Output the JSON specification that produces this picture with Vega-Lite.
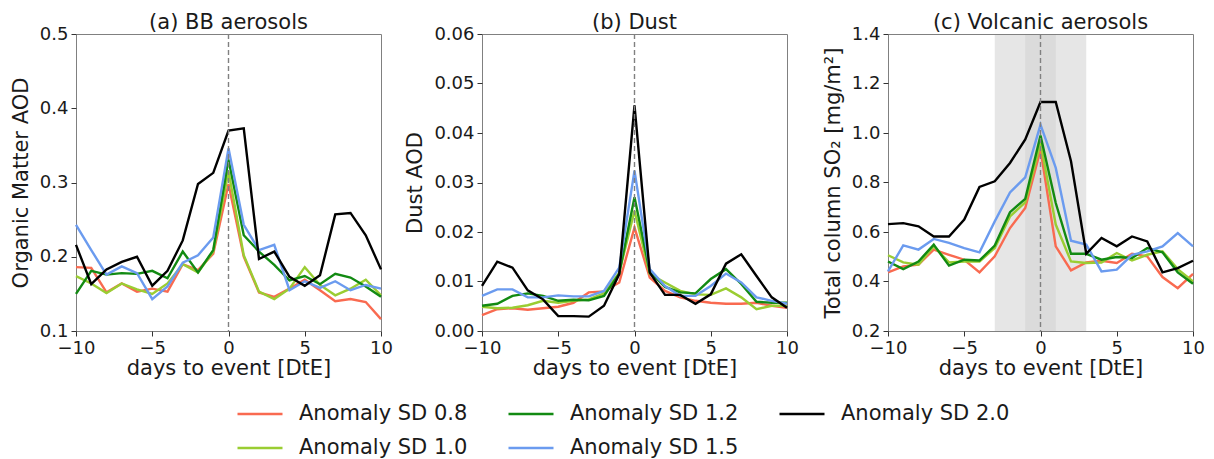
{
  "$schema": "https://vega.github.io/schema/vega-lite/v6.json",
  "padding": {"left": 9, "top": 11, "right": 5, "bottom": 5},
  "datasets": {
    "main": [
      {"p":"a","s":"0.8","d":-10,"v":0.186},{"p":"a","s":"0.8","d":-9,"v":0.185},{"p":"a","s":"0.8","d":-8,"v":0.152},{"p":"a","s":"0.8","d":-7,"v":0.164},{"p":"a","s":"0.8","d":-6,"v":0.153},{"p":"a","s":"0.8","d":-5,"v":0.157},{"p":"a","s":"0.8","d":-4,"v":0.153},{"p":"a","s":"0.8","d":-3,"v":0.190},{"p":"a","s":"0.8","d":-2,"v":0.182},{"p":"a","s":"0.8","d":-1,"v":0.204},{"p":"a","s":"0.8","d":0,"v":0.298},{"p":"a","s":"0.8","d":1,"v":0.200},{"p":"a","s":"0.8","d":2,"v":0.152},{"p":"a","s":"0.8","d":3,"v":0.146},{"p":"a","s":"0.8","d":4,"v":0.157},{"p":"a","s":"0.8","d":5,"v":0.169},{"p":"a","s":"0.8","d":6,"v":0.155},{"p":"a","s":"0.8","d":7,"v":0.140},{"p":"a","s":"0.8","d":8,"v":0.143},{"p":"a","s":"0.8","d":9,"v":0.139},{"p":"a","s":"0.8","d":10,"v":0.116},
      {"p":"a","s":"1.0","d":-10,"v":0.174},{"p":"a","s":"1.0","d":-9,"v":0.164},{"p":"a","s":"1.0","d":-8,"v":0.151},{"p":"a","s":"1.0","d":-7,"v":0.164},{"p":"a","s":"1.0","d":-6,"v":0.156},{"p":"a","s":"1.0","d":-5,"v":0.150},{"p":"a","s":"1.0","d":-4,"v":0.164},{"p":"a","s":"1.0","d":-3,"v":0.190},{"p":"a","s":"1.0","d":-2,"v":0.179},{"p":"a","s":"1.0","d":-1,"v":0.207},{"p":"a","s":"1.0","d":0,"v":0.315},{"p":"a","s":"1.0","d":1,"v":0.202},{"p":"a","s":"1.0","d":2,"v":0.153},{"p":"a","s":"1.0","d":3,"v":0.143},{"p":"a","s":"1.0","d":4,"v":0.157},{"p":"a","s":"1.0","d":5,"v":0.186},{"p":"a","s":"1.0","d":6,"v":0.162},{"p":"a","s":"1.0","d":7,"v":0.148},{"p":"a","s":"1.0","d":8,"v":0.157},{"p":"a","s":"1.0","d":9,"v":0.169},{"p":"a","s":"1.0","d":10,"v":0.148},
      {"p":"a","s":"1.2","d":-10,"v":0.150},{"p":"a","s":"1.2","d":-9,"v":0.181},{"p":"a","s":"1.2","d":-8,"v":0.176},{"p":"a","s":"1.2","d":-7,"v":0.178},{"p":"a","s":"1.2","d":-6,"v":0.177},{"p":"a","s":"1.2","d":-5,"v":0.181},{"p":"a","s":"1.2","d":-4,"v":0.171},{"p":"a","s":"1.2","d":-3,"v":0.207},{"p":"a","s":"1.2","d":-2,"v":0.179},{"p":"a","s":"1.2","d":-1,"v":0.209},{"p":"a","s":"1.2","d":0,"v":0.331},{"p":"a","s":"1.2","d":1,"v":0.229},{"p":"a","s":"1.2","d":2,"v":0.207},{"p":"a","s":"1.2","d":3,"v":0.189},{"p":"a","s":"1.2","d":4,"v":0.168},{"p":"a","s":"1.2","d":5,"v":0.174},{"p":"a","s":"1.2","d":6,"v":0.163},{"p":"a","s":"1.2","d":7,"v":0.177},{"p":"a","s":"1.2","d":8,"v":0.172},{"p":"a","s":"1.2","d":9,"v":0.160},{"p":"a","s":"1.2","d":10,"v":0.146},
      {"p":"a","s":"1.5","d":-10,"v":0.243},{"p":"a","s":"1.5","d":-9,"v":0.209},{"p":"a","s":"1.5","d":-8,"v":0.176},{"p":"a","s":"1.5","d":-7,"v":0.187},{"p":"a","s":"1.5","d":-6,"v":0.178},{"p":"a","s":"1.5","d":-5,"v":0.143},{"p":"a","s":"1.5","d":-4,"v":0.160},{"p":"a","s":"1.5","d":-3,"v":0.192},{"p":"a","s":"1.5","d":-2,"v":0.202},{"p":"a","s":"1.5","d":-1,"v":0.226},{"p":"a","s":"1.5","d":0,"v":0.346},{"p":"a","s":"1.5","d":1,"v":0.243},{"p":"a","s":"1.5","d":2,"v":0.209},{"p":"a","s":"1.5","d":3,"v":0.216},{"p":"a","s":"1.5","d":4,"v":0.155},{"p":"a","s":"1.5","d":5,"v":0.167},{"p":"a","s":"1.5","d":6,"v":0.158},{"p":"a","s":"1.5","d":7,"v":0.167},{"p":"a","s":"1.5","d":8,"v":0.155},{"p":"a","s":"1.5","d":9,"v":0.162},{"p":"a","s":"1.5","d":10,"v":0.157},
      {"p":"a","s":"2.0","d":-10,"v":0.216},{"p":"a","s":"2.0","d":-9,"v":0.163},{"p":"a","s":"2.0","d":-8,"v":0.183},{"p":"a","s":"2.0","d":-7,"v":0.193},{"p":"a","s":"2.0","d":-6,"v":0.200},{"p":"a","s":"2.0","d":-5,"v":0.161},{"p":"a","s":"2.0","d":-4,"v":0.181},{"p":"a","s":"2.0","d":-3,"v":0.222},{"p":"a","s":"2.0","d":-2,"v":0.298},{"p":"a","s":"2.0","d":-1,"v":0.313},{"p":"a","s":"2.0","d":0,"v":0.370},{"p":"a","s":"2.0","d":1,"v":0.373},{"p":"a","s":"2.0","d":2,"v":0.197},{"p":"a","s":"2.0","d":3,"v":0.207},{"p":"a","s":"2.0","d":4,"v":0.173},{"p":"a","s":"2.0","d":5,"v":0.161},{"p":"a","s":"2.0","d":6,"v":0.175},{"p":"a","s":"2.0","d":7,"v":0.257},{"p":"a","s":"2.0","d":8,"v":0.259},{"p":"a","s":"2.0","d":9,"v":0.229},{"p":"a","s":"2.0","d":10,"v":0.183},

      {"p":"b","s":"0.8","d":-10,"v":0.0032},{"p":"b","s":"0.8","d":-9,"v":0.0044},{"p":"b","s":"0.8","d":-8,"v":0.0046},{"p":"b","s":"0.8","d":-7,"v":0.0043},{"p":"b","s":"0.8","d":-6,"v":0.0046},{"p":"b","s":"0.8","d":-5,"v":0.0049},{"p":"b","s":"0.8","d":-4,"v":0.0057},{"p":"b","s":"0.8","d":-3,"v":0.0078},{"p":"b","s":"0.8","d":-2,"v":0.0080},{"p":"b","s":"0.8","d":-1,"v":0.0098},{"p":"b","s":"0.8","d":0,"v":0.0209},{"p":"b","s":"0.8","d":1,"v":0.0108},{"p":"b","s":"0.8","d":2,"v":0.0081},{"p":"b","s":"0.8","d":3,"v":0.0068},{"p":"b","s":"0.8","d":4,"v":0.0061},{"p":"b","s":"0.8","d":5,"v":0.0057},{"p":"b","s":"0.8","d":6,"v":0.0055},{"p":"b","s":"0.8","d":7,"v":0.0055},{"p":"b","s":"0.8","d":8,"v":0.0057},{"p":"b","s":"0.8","d":9,"v":0.0051},{"p":"b","s":"0.8","d":10,"v":0.0047},
      {"p":"b","s":"1.0","d":-10,"v":0.0049},{"p":"b","s":"1.0","d":-9,"v":0.0046},{"p":"b","s":"1.0","d":-8,"v":0.0047},{"p":"b","s":"1.0","d":-7,"v":0.0052},{"p":"b","s":"1.0","d":-6,"v":0.0061},{"p":"b","s":"1.0","d":-5,"v":0.0057},{"p":"b","s":"1.0","d":-4,"v":0.0061},{"p":"b","s":"1.0","d":-3,"v":0.0064},{"p":"b","s":"1.0","d":-2,"v":0.0076},{"p":"b","s":"1.0","d":-1,"v":0.0118},{"p":"b","s":"1.0","d":0,"v":0.0243},{"p":"b","s":"1.0","d":1,"v":0.0115},{"p":"b","s":"1.0","d":2,"v":0.0098},{"p":"b","s":"1.0","d":3,"v":0.0081},{"p":"b","s":"1.0","d":4,"v":0.0074},{"p":"b","s":"1.0","d":5,"v":0.0073},{"p":"b","s":"1.0","d":6,"v":0.0086},{"p":"b","s":"1.0","d":7,"v":0.0068},{"p":"b","s":"1.0","d":8,"v":0.0044},{"p":"b","s":"1.0","d":9,"v":0.0051},{"p":"b","s":"1.0","d":10,"v":0.0051},
      {"p":"b","s":"1.2","d":-10,"v":0.0051},{"p":"b","s":"1.2","d":-9,"v":0.0055},{"p":"b","s":"1.2","d":-8,"v":0.0071},{"p":"b","s":"1.2","d":-7,"v":0.0076},{"p":"b","s":"1.2","d":-6,"v":0.0071},{"p":"b","s":"1.2","d":-5,"v":0.0061},{"p":"b","s":"1.2","d":-4,"v":0.0063},{"p":"b","s":"1.2","d":-3,"v":0.0062},{"p":"b","s":"1.2","d":-2,"v":0.0071},{"p":"b","s":"1.2","d":-1,"v":0.0116},{"p":"b","s":"1.2","d":0,"v":0.0270},{"p":"b","s":"1.2","d":1,"v":0.0120},{"p":"b","s":"1.2","d":2,"v":0.0089},{"p":"b","s":"1.2","d":3,"v":0.0078},{"p":"b","s":"1.2","d":4,"v":0.0076},{"p":"b","s":"1.2","d":5,"v":0.0105},{"p":"b","s":"1.2","d":6,"v":0.0125},{"p":"b","s":"1.2","d":7,"v":0.0095},{"p":"b","s":"1.2","d":8,"v":0.0059},{"p":"b","s":"1.2","d":9,"v":0.0057},{"p":"b","s":"1.2","d":10,"v":0.0057},
      {"p":"b","s":"1.5","d":-10,"v":0.0071},{"p":"b","s":"1.5","d":-9,"v":0.0084},{"p":"b","s":"1.5","d":-8,"v":0.0084},{"p":"b","s":"1.5","d":-7,"v":0.0068},{"p":"b","s":"1.5","d":-6,"v":0.0068},{"p":"b","s":"1.5","d":-5,"v":0.0072},{"p":"b","s":"1.5","d":-4,"v":0.0070},{"p":"b","s":"1.5","d":-3,"v":0.0070},{"p":"b","s":"1.5","d":-2,"v":0.0081},{"p":"b","s":"1.5","d":-1,"v":0.0128},{"p":"b","s":"1.5","d":0,"v":0.0324},{"p":"b","s":"1.5","d":1,"v":0.0125},{"p":"b","s":"1.5","d":2,"v":0.0091},{"p":"b","s":"1.5","d":3,"v":0.0071},{"p":"b","s":"1.5","d":4,"v":0.0071},{"p":"b","s":"1.5","d":5,"v":0.0091},{"p":"b","s":"1.5","d":6,"v":0.0116},{"p":"b","s":"1.5","d":7,"v":0.0098},{"p":"b","s":"1.5","d":8,"v":0.0068},{"p":"b","s":"1.5","d":9,"v":0.0061},{"p":"b","s":"1.5","d":10,"v":0.0055},
      {"p":"b","s":"2.0","d":-10,"v":0.0091},{"p":"b","s":"2.0","d":-9,"v":0.0140},{"p":"b","s":"2.0","d":-8,"v":0.0128},{"p":"b","s":"2.0","d":-7,"v":0.0082},{"p":"b","s":"2.0","d":-6,"v":0.0064},{"p":"b","s":"2.0","d":-5,"v":0.0030},{"p":"b","s":"2.0","d":-4,"v":0.0030},{"p":"b","s":"2.0","d":-3,"v":0.0029},{"p":"b","s":"2.0","d":-2,"v":0.0051},{"p":"b","s":"2.0","d":-1,"v":0.0115},{"p":"b","s":"2.0","d":0,"v":0.0456},{"p":"b","s":"2.0","d":1,"v":0.0118},{"p":"b","s":"2.0","d":2,"v":0.0073},{"p":"b","s":"2.0","d":3,"v":0.0073},{"p":"b","s":"2.0","d":4,"v":0.0055},{"p":"b","s":"2.0","d":5,"v":0.0074},{"p":"b","s":"2.0","d":6,"v":0.0136},{"p":"b","s":"2.0","d":7,"v":0.0155},{"p":"b","s":"2.0","d":8,"v":0.0111},{"p":"b","s":"2.0","d":9,"v":0.0068},{"p":"b","s":"2.0","d":10,"v":0.0047},

      {"p":"c","s":"0.8","d":-10,"v":0.437},{"p":"c","s":"0.8","d":-9,"v":0.461},{"p":"c","s":"0.8","d":-8,"v":0.468},{"p":"c","s":"0.8","d":-7,"v":0.529},{"p":"c","s":"0.8","d":-6,"v":0.508},{"p":"c","s":"0.8","d":-5,"v":0.488},{"p":"c","s":"0.8","d":-4,"v":0.437},{"p":"c","s":"0.8","d":-3,"v":0.502},{"p":"c","s":"0.8","d":-2,"v":0.616},{"p":"c","s":"0.8","d":-1,"v":0.697},{"p":"c","s":"0.8","d":0,"v":0.933},{"p":"c","s":"0.8","d":1,"v":0.542},{"p":"c","s":"0.8","d":2,"v":0.445},{"p":"c","s":"0.8","d":3,"v":0.477},{"p":"c","s":"0.8","d":4,"v":0.484},{"p":"c","s":"0.8","d":5,"v":0.475},{"p":"c","s":"0.8","d":6,"v":0.512},{"p":"c","s":"0.8","d":7,"v":0.502},{"p":"c","s":"0.8","d":8,"v":0.418},{"p":"c","s":"0.8","d":9,"v":0.373},{"p":"c","s":"0.8","d":10,"v":0.431},
      {"p":"c","s":"1.0","d":-10,"v":0.506},{"p":"c","s":"1.0","d":-9,"v":0.477},{"p":"c","s":"1.0","d":-8,"v":0.468},{"p":"c","s":"1.0","d":-7,"v":0.542},{"p":"c","s":"1.0","d":-6,"v":0.477},{"p":"c","s":"1.0","d":-5,"v":0.481},{"p":"c","s":"1.0","d":-4,"v":0.481},{"p":"c","s":"1.0","d":-3,"v":0.535},{"p":"c","s":"1.0","d":-2,"v":0.663},{"p":"c","s":"1.0","d":-1,"v":0.720},{"p":"c","s":"1.0","d":0,"v":0.960},{"p":"c","s":"1.0","d":1,"v":0.630},{"p":"c","s":"1.0","d":2,"v":0.481},{"p":"c","s":"1.0","d":3,"v":0.475},{"p":"c","s":"1.0","d":4,"v":0.477},{"p":"c","s":"1.0","d":5,"v":0.515},{"p":"c","s":"1.0","d":6,"v":0.485},{"p":"c","s":"1.0","d":7,"v":0.508},{"p":"c","s":"1.0","d":8,"v":0.522},{"p":"c","s":"1.0","d":9,"v":0.450},{"p":"c","s":"1.0","d":10,"v":0.400},
      {"p":"c","s":"1.2","d":-10,"v":0.481},{"p":"c","s":"1.2","d":-9,"v":0.450},{"p":"c","s":"1.2","d":-8,"v":0.481},{"p":"c","s":"1.2","d":-7,"v":0.549},{"p":"c","s":"1.2","d":-6,"v":0.464},{"p":"c","s":"1.2","d":-5,"v":0.488},{"p":"c","s":"1.2","d":-4,"v":0.485},{"p":"c","s":"1.2","d":-3,"v":0.545},{"p":"c","s":"1.2","d":-2,"v":0.680},{"p":"c","s":"1.2","d":-1,"v":0.734},{"p":"c","s":"1.2","d":0,"v":0.990},{"p":"c","s":"1.2","d":1,"v":0.717},{"p":"c","s":"1.2","d":2,"v":0.512},{"p":"c","s":"1.2","d":3,"v":0.512},{"p":"c","s":"1.2","d":4,"v":0.488},{"p":"c","s":"1.2","d":5,"v":0.499},{"p":"c","s":"1.2","d":6,"v":0.495},{"p":"c","s":"1.2","d":7,"v":0.535},{"p":"c","s":"1.2","d":8,"v":0.518},{"p":"c","s":"1.2","d":9,"v":0.437},{"p":"c","s":"1.2","d":10,"v":0.391},
      {"p":"c","s":"1.5","d":-10,"v":0.441},{"p":"c","s":"1.5","d":-9,"v":0.546},{"p":"c","s":"1.5","d":-8,"v":0.529},{"p":"c","s":"1.5","d":-7,"v":0.572},{"p":"c","s":"1.5","d":-6,"v":0.556},{"p":"c","s":"1.5","d":-5,"v":0.535},{"p":"c","s":"1.5","d":-4,"v":0.518},{"p":"c","s":"1.5","d":-3,"v":0.643},{"p":"c","s":"1.5","d":-2,"v":0.760},{"p":"c","s":"1.5","d":-1,"v":0.821},{"p":"c","s":"1.5","d":0,"v":1.034},{"p":"c","s":"1.5","d":1,"v":0.859},{"p":"c","s":"1.5","d":2,"v":0.565},{"p":"c","s":"1.5","d":3,"v":0.549},{"p":"c","s":"1.5","d":4,"v":0.441},{"p":"c","s":"1.5","d":5,"v":0.448},{"p":"c","s":"1.5","d":6,"v":0.508},{"p":"c","s":"1.5","d":7,"v":0.522},{"p":"c","s":"1.5","d":8,"v":0.542},{"p":"c","s":"1.5","d":9,"v":0.596},{"p":"c","s":"1.5","d":10,"v":0.542},
      {"p":"c","s":"2.0","d":-10,"v":0.632},{"p":"c","s":"2.0","d":-9,"v":0.636},{"p":"c","s":"2.0","d":-8,"v":0.623},{"p":"c","s":"2.0","d":-7,"v":0.582},{"p":"c","s":"2.0","d":-6,"v":0.582},{"p":"c","s":"2.0","d":-5,"v":0.650},{"p":"c","s":"2.0","d":-4,"v":0.782},{"p":"c","s":"2.0","d":-3,"v":0.805},{"p":"c","s":"2.0","d":-2,"v":0.879},{"p":"c","s":"2.0","d":-1,"v":0.974},{"p":"c","s":"2.0","d":0,"v":1.125},{"p":"c","s":"2.0","d":1,"v":1.125},{"p":"c","s":"2.0","d":2,"v":0.886},{"p":"c","s":"2.0","d":3,"v":0.512},{"p":"c","s":"2.0","d":4,"v":0.576},{"p":"c","s":"2.0","d":5,"v":0.542},{"p":"c","s":"2.0","d":6,"v":0.582},{"p":"c","s":"2.0","d":7,"v":0.562},{"p":"c","s":"2.0","d":8,"v":0.437},{"p":"c","s":"2.0","d":9,"v":0.454},{"p":"c","s":"2.0","d":10,"v":0.484}
    ]
  },
  "spacing": 101,
  "bounds": "flush",
  "hconcat": [
    {
      "width": 305, "height": 297,
      "title": "(a) BB aerosols",
      "layer": [
        {
          "data": {"name": "main"},
          "transform": [{"filter": "datum.p === 'a'"}],
          "mark": {"type": "line", "strokeWidth": 2.4},
          "encoding": {
            "x": {"field": "d", "type": "quantitative", "scale": {"domain": [-10, 10], "nice": false}, "axis": {"values": [-10, -5, 0, 5, 10], "title": "days to event [DtE]"}},
            "y": {"field": "v", "type": "quantitative", "scale": {"domain": [0.1, 0.5], "nice": false, "zero": false}, "axis": {"values": [0.1, 0.2, 0.3, 0.4, 0.5], "format": ".1f", "title": "Organic Matter AOD"}},
            "color": {"field": "s", "type": "nominal", "scale": {"domain": ["0.8", "1.2", "2.0", "1.0", "1.5"], "range": ["#f96a50", "#128a12", "#000000", "#9acd32", "#6b9bef"]}, "legend": {"labelExpr": "'Anomaly SD ' + datum.label"}}
          }
        },
        {
          "data": {"values": [{}]},
          "mark": {"type": "rule", "color": "#808080", "strokeDash": [5, 3], "strokeWidth": 1.4},
          "encoding": {"x": {"datum": 0, "type": "quantitative"}}
        }
      ]
    },
    {
      "width": 305, "height": 297,
      "title": "(b) Dust",
      "layer": [
        {
          "data": {"name": "main"},
          "transform": [{"filter": "datum.p === 'b'"}],
          "mark": {"type": "line", "strokeWidth": 2.4},
          "encoding": {
            "x": {"field": "d", "type": "quantitative", "scale": {"domain": [-10, 10], "nice": false}, "axis": {"values": [-10, -5, 0, 5, 10], "title": "days to event [DtE]"}},
            "y": {"field": "v", "type": "quantitative", "scale": {"domain": [0, 0.06], "nice": false}, "axis": {"values": [0, 0.01, 0.02, 0.03, 0.04, 0.05, 0.06], "format": ".2f", "title": "Dust AOD"}},
            "color": {"field": "s", "type": "nominal", "scale": {"domain": ["0.8", "1.2", "2.0", "1.0", "1.5"], "range": ["#f96a50", "#128a12", "#000000", "#9acd32", "#6b9bef"]}, "legend": {"labelExpr": "'Anomaly SD ' + datum.label"}}
          }
        },
        {
          "data": {"values": [{}]},
          "mark": {"type": "rule", "color": "#808080", "strokeDash": [5, 3], "strokeWidth": 1.4},
          "encoding": {"x": {"datum": 0, "type": "quantitative"}}
        }
      ]
    },
    {
      "width": 305, "height": 297,
      "title": "(c) Volcanic aerosols",
      "layer": [
        {
          "data": {"values": [{"a": -3, "b": 3}]},
          "mark": {"type": "rect", "color": "#808080", "opacity": 0.2},
          "encoding": {"x": {"field": "a", "type": "quantitative"}, "x2": {"field": "b"}}
        },
        {
          "data": {"values": [{"a": -1, "b": 1}]},
          "mark": {"type": "rect", "color": "#808080", "opacity": 0.1},
          "encoding": {"x": {"field": "a", "type": "quantitative"}, "x2": {"field": "b"}}
        },
        {
          "data": {"name": "main"},
          "transform": [{"filter": "datum.p === 'c'"}],
          "mark": {"type": "line", "strokeWidth": 2.4},
          "encoding": {
            "x": {"field": "d", "type": "quantitative", "scale": {"domain": [-10, 10], "nice": false}, "axis": {"values": [-10, -5, 0, 5, 10], "title": "days to event [DtE]"}},
            "y": {"field": "v", "type": "quantitative", "scale": {"domain": [0.2, 1.4], "nice": false, "zero": false}, "axis": {"values": [0.2, 0.4, 0.6, 0.8, 1.0, 1.2, 1.4], "format": ".1f", "title": "Total column SO₂ [mg/m²]"}},
            "color": {"field": "s", "type": "nominal", "scale": {"domain": ["0.8", "1.2", "2.0", "1.0", "1.5"], "range": ["#f96a50", "#128a12", "#000000", "#9acd32", "#6b9bef"]}, "legend": {"labelExpr": "'Anomaly SD ' + datum.label"}}
          }
        },
        {
          "data": {"values": [{}]},
          "mark": {"type": "rule", "color": "#808080", "strokeDash": [5, 3], "strokeWidth": 1.4},
          "encoding": {"x": {"datum": 0, "type": "quantitative"}}
        }
      ]
    }
  ],
  "config": {
    "font": "DejaVu Sans",
    "view": {"stroke": "#808080", "strokeWidth": 1},
    "axis": {
      "domain": false, "grid": false, "tickSize": 5, "tickColor": "#333333", "tickWidth": 1,
      "labelFontSize": 18, "labelColor": "#1a1a1a", "labelPadding": 3, "labelFlush": false, "labelOverlap": false,
      "titleFontSize": 21, "titleFontWeight": "normal", "titleColor": "#1a1a1a"
    },
    "axisX": {"titlePadding": 0},
    "axisY": {"titlePadding": 8},
    "title": {"fontSize": 21, "fontWeight": "normal", "color": "#1a1a1a", "offset": -8},
    "legend": {
      "orient": "none", "legendX": 160, "legendY": 356, "direction": "horizontal", "columns": 3,
      "title": null, "symbolType": "stroke", "symbolSize": 2025, "symbolStrokeWidth": 2.5,
      "labelFontSize": 21, "labelLimit": 400, "labelColor": "#1a1a1a", "labelOffset": 15, "columnPadding": 35, "rowPadding": -1
    }
  }
}
